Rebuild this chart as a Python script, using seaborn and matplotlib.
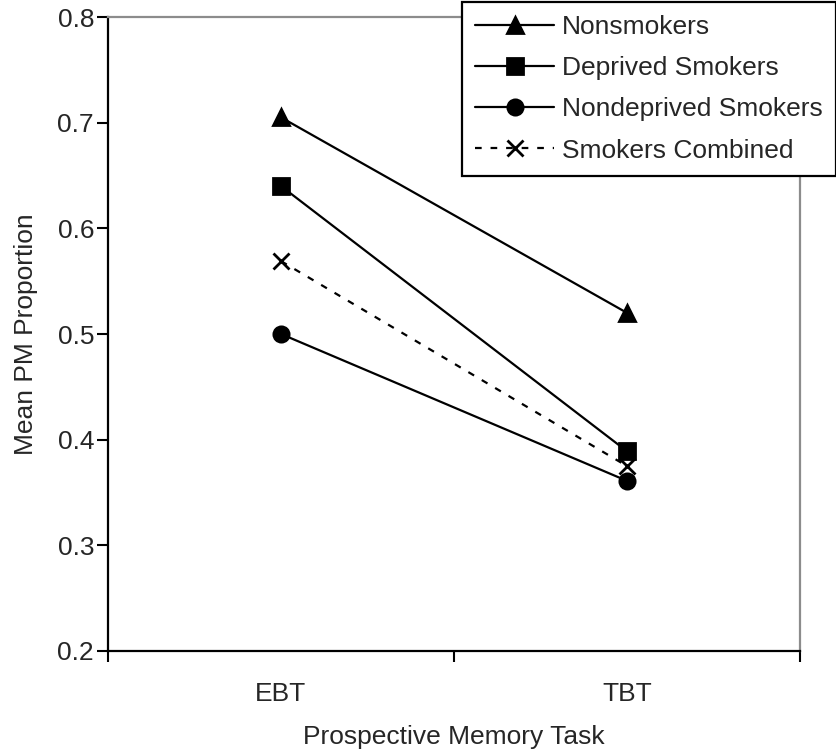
import numpy as np
import pandas as pd
import matplotlib
matplotlib.use("Agg")
import matplotlib.pyplot as plt
import seaborn as sns

tasks = ["EBT", "TBT"]
groups = ["Nonsmokers", "Deprived Smokers", "Nondeprived Smokers", "Smokers Combined"]
nonsmokers = [0.705, 0.520]
deprived = [0.640, 0.389]
nondeprived = [0.500, 0.361]
combined = [0.569, 0.375]

rows = []
for g, vals in zip(groups, [nonsmokers, deprived, nondeprived, combined]):
    for i, (t, v) in enumerate(zip(tasks, vals)):
        rows.append({"group": g, "task": t, "x": i, "value": v})
df = pd.DataFrame(rows)

sns.set_style("white")
plt.rcParams['font.family'] = ['Liberation Sans', 'DejaVu Sans']
plt.rcParams['font.size'] = 19

fig = plt.figure(figsize=(8.37, 7.51), dpi=100)
ax = fig.add_axes([108/837, 100/751, 692/837, 634/751])

styles = {
    "Nonsmokers": dict(marker="^", linestyle="-"),
    "Deprived Smokers": dict(marker="s", linestyle="-"),
    "Nondeprived Smokers": dict(marker="o", linestyle="-"),
    "Smokers Combined": dict(marker="x", linestyle=(0, (3, 4))),
}

for g in groups:
    sub = df[df["group"] == g]
    sns.lineplot(data=sub, x="x", y="value", ax=ax, color="black", label=g,
                 linewidth=1.6, markersize=11, markeredgewidth=2,
                 markeredgecolor="black", **styles[g])

ax.set_xlim(-0.5, 1.5)
ax.set_ylim(0.2, 0.8)
yt = np.arange(0.2, 0.81, 0.1)
ax.set_yticks(yt)
ax.set_yticklabels([f"{v:.1f}" for v in yt])
ax.set_xticks([-0.5, 0.5, 1.5])
ax.set_xticklabels([])
ax.set_xticks(range(len(tasks)), minor=True)
ax.set_xticklabels(tasks, minor=True)
ax.tick_params(axis="x", which="major", direction="out", length=8, width=1.5, color="black", bottom=True)
ax.tick_params(axis="x", which="minor", length=0, pad=22, labelsize=19)
ax.tick_params(axis="y", direction="out", length=8, width=1.5, color="black", left=True, labelsize=19, pad=2)

for s in ["left", "bottom"]:
    ax.spines[s].set_color("black")
    ax.spines[s].set_linewidth(1.6)
for s in ["top", "right"]:
    ax.spines[s].set_color("#8c8c8c")
    ax.spines[s].set_linewidth(1.6)

ax.set_xlabel("Prospective Memory Task", fontsize=19, labelpad=14)
ax.set_ylabel("Mean PM Proportion", fontsize=19, labelpad=14)

handles, labels = ax.get_legend_handles_labels()
ax.get_legend().remove()
leg = fig.legend(handles, labels, loc="upper right", bbox_to_anchor=(836/837, 749/751),
                 frameon=True, fancybox=False, edgecolor="black", framealpha=1,
                 fontsize=19, handlelength=3.0, handletextpad=0.3,
                 labelspacing=0.65, borderpad=0.5, borderaxespad=0)
leg.get_frame().set_linewidth(1.6)

fig.savefig("out.png", dpi=100)
